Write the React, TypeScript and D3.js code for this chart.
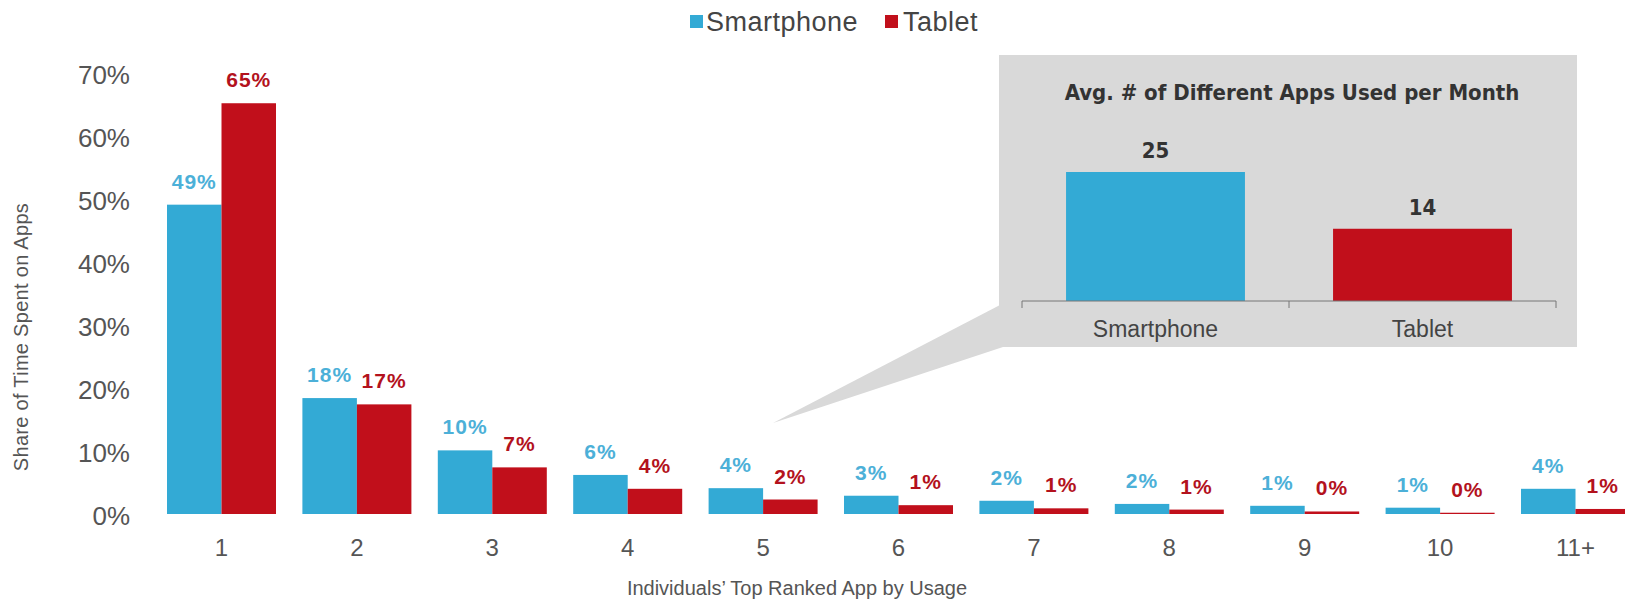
import React from 'react';
import * as d3 from 'd3';

// main chart data
const ranks = ['1', '2', '3', '4', '5', '6', '7', '8', '9', '10', '11+'];
const smartphone = [49.1, 18.4, 10.1, 6.2, 4.1, 2.9, 2.1, 1.6, 1.3, 1.0, 4.0];
const tablet = [65.2, 17.4, 7.4, 4.0, 2.3, 1.4, 0.9, 0.7, 0.4, 0.2, 0.8];
const yTicks = [0, 10, 20, 30, 40, 50, 60, 70];

// inset data
const devices = ['Smartphone', 'Tablet'];
const avgApps = [25, 14];

const W = 1625;
const H = 603;
const BLUE = '#33aad5';
const RED = '#c10f1b';
const BLUE_TXT = '#4cb0d8';
const RED_TXT = '#b3121d';
const GREY_TXT = '#555';
const FONT = '"Liberation Sans", Arial, Helvetica, sans-serif';
const NARROW = '"Liberation Sans Narrow", "DejaVu Sans Condensed", "Liberation Sans", sans-serif';

const App: React.FC = () => {
  const x0 = d3.scaleBand<string>().domain(ranks).range([167, 1630]).paddingInner(0.195).paddingOuter(0);
  const x1 = d3.scaleBand<string>().domain(['s', 't']).range([0, x0.bandwidth()]);
  const y = d3.scaleLinear().domain([0, 70]).range([514, 73]);

  // inset scales
  const ix = d3.scaleBand<string>().domain(devices).range([1022, 1556]).paddingInner(0.33).paddingOuter(0.165);
  const iy = d3.scaleLinear().domain([0, 25]).range([301, 172]);
  const insetColors = [BLUE, RED];

  const box = { x: 999, y: 55, w: 578, h: 292 };
  const wedge = [
    [box.x + 1, 305],
    [box.x + 4, box.y + box.h],
    [773, 423],
  ];

  return (
    <svg width={W} height={H} style={{ position: 'absolute', left: 0, top: 0, background: '#fff' }} fontFamily={FONT}>
      {/* legend */}
      <g fontSize={27} fill="#444" letterSpacing={0.5}>
        <rect x={690} y={15} width={13} height={13} fill={BLUE} />
        <text x={706} y={31}>Smartphone</text>
        <rect x={885} y={15} width={13} height={13} fill={RED} />
        <text x={903} y={31}>Tablet</text>
      </g>

      {/* y axis ticks */}
      {yTicks.map(t => (
        <text key={t} x={130} y={y(t) + 2} dy="0.35em" textAnchor="end" fontSize={26} fill={GREY_TXT}>
          {`${t}%`}
        </text>
      ))}
      <text
        transform={`translate(28, 337) rotate(-90)`}
        textAnchor="middle"
        fontSize={20}
        letterSpacing={0.3}
        fill={GREY_TXT}
      >
        Share of Time Spent on Apps
      </text>

      {/* callout wedge + inset box */}
      <polygon points={wedge.map(p => p.join(',')).join(' ')} fill="#d9d9d9" />
      <rect x={box.x} y={box.y} width={box.w} height={box.h} fill="#d9d9d9" />

      {/* main bars */}
      {ranks.map((r, i) => {
        const gx = x0(r)!;
        const sv = smartphone[i];
        const tv = tablet[i];
        return (
          <g key={r} transform={`translate(${gx},0)`}>
            <rect x={x1('s')} y={y(sv)} width={x1.bandwidth()} height={y(0) - y(sv)} fill={BLUE} />
            <rect x={x1('t')} y={y(tv)} width={x1.bandwidth()} height={y(0) - y(tv)} fill={RED} />
            <text
              x={x1('s')! + x1.bandwidth() / 2}
              y={y(sv) - 16}
              textAnchor="middle"
              fontSize={21}
              fontWeight="bold"
              letterSpacing={1}
              fill={BLUE_TXT}
            >
              {`${Math.round(sv)}%`}
            </text>
            <text
              x={x1('t')! + x1.bandwidth() / 2}
              y={y(tv) - 16}
              textAnchor="middle"
              fontSize={21}
              fontWeight="bold"
              letterSpacing={1}
              fill={RED_TXT}
            >
              {`${Math.round(tv)}%`}
            </text>
            <text x={x0.bandwidth() / 2} y={556} textAnchor="middle" fontSize={24} fill={GREY_TXT}>
              {r}
            </text>
          </g>
        );
      })}
      <text x={797} y={595} textAnchor="middle" fontSize={20} fill={GREY_TXT}>
        Individuals’ Top Ranked App by Usage
      </text>

      {/* inset chart */}
      <text x={1292} y={100} textAnchor="middle" fontSize={22} fontWeight="bold" fill="#333" fontFamily={NARROW}>
        Avg. # of Different Apps Used per Month
      </text>
      {devices.map((d, i) => (
        <g key={d}>
          <rect x={ix(d)} y={iy(avgApps[i])} width={ix.bandwidth()} height={iy(0) - iy(avgApps[i])} fill={insetColors[i]} />
          <text
            x={ix(d)! + ix.bandwidth() / 2}
            y={iy(avgApps[i]) - 14}
            textAnchor="middle"
            fontSize={22}
            fontWeight="bold"
            fill="#333"
            fontFamily={NARROW}
          >
            {avgApps[i]}
          </text>
          <text x={ix(d)! + ix.bandwidth() / 2} y={337} textAnchor="middle" fontSize={23} fill="#444">
            {d}
          </text>
        </g>
      ))}
      <line x1={1022} x2={1556} y1={iy(0)} y2={iy(0)} stroke="#777" />
      {[1022, 1022 + ix.step(), 1556].map(tx => (
        <line key={tx} x1={tx} x2={tx} y1={iy(0)} y2={iy(0) + 7} stroke="#777" />
      ))}
    </svg>
  );
};

export default App;
